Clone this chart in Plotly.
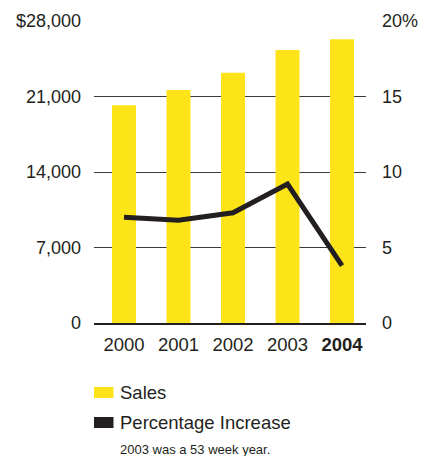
import plotly.graph_objects as go

years = [0, 1, 2, 3, 4]
year_labels = ["2000", "2001", "2002", "2003", "<b>2004</b>"]
sales = [20200, 21600, 23200, 25300, 26300]
pct_increase = [7.0, 6.8, 7.3, 9.2, 3.8]
left_ticks = [0, 7000, 14000, 21000, 28000]
left_labels = ["0", "7,000", "14,000", "21,000", "$28,000"]
right_ticks = [0, 5, 10, 15, 20]
right_labels = ["0", "5", "10", "15", "20%"]

YELLOW = "#FDE418"
DARK = "#231F20"
FONT = "Liberation Sans, Arial, Helvetica, sans-serif"

fig = go.Figure()
fig.add_trace(go.Bar(x=years, y=sales, marker=dict(color=YELLOW, line=dict(width=0)),
                     name="Sales", showlegend=False, width=0.44))
fig.add_trace(go.Scatter(x=years, y=pct_increase, yaxis="y2", mode="lines",
                         line=dict(color=DARK, width=5), name="Percentage Increase",
                         showlegend=False))

fig.update_layout(
    width=421, height=456,
    margin=dict(l=94, r=55, t=21, b=133),
    paper_bgcolor="white", plot_bgcolor="white",
    font=dict(family=FONT, size=18, color=DARK),
    xaxis=dict(range=[-0.55, 4.44], tickvals=years, ticktext=year_labels,
               showline=True, linecolor=DARK, linewidth=2, ticks="",
               showgrid=False, zeroline=False, tickfont=dict(size=18.5),
               ticklabelstandoff=4, automargin=False),
    yaxis=dict(range=[0, 28000], tickvals=left_ticks, ticktext=left_labels,
               showgrid=True, gridcolor="#3a3a3a", gridwidth=1, zeroline=False,
               ticks="", ticklabelstandoff=12, tickfont=dict(size=18),
               automargin=False),
    yaxis2=dict(range=[0, 20], tickvals=right_ticks, ticktext=right_labels,
                overlaying="y", side="right", showgrid=False, zeroline=False,
                ticks="", ticklabelstandoff=15, tickfont=dict(size=18),
                automargin=False),
)

# manual legend
def px_to_paper_y(py):
    return (323 - py) / 302.0

def px_to_paper_x(px):
    return (px - 94) / 272.0

legend_items = [("Sales", YELLOW, 387, 398), ("Percentage Increase", DARK, 417, 428)]
for label, color, y0, y1 in legend_items:
    fig.add_shape(type="rect", xref="paper", yref="paper",
                  x0=px_to_paper_x(94), x1=px_to_paper_x(113.5),
                  y0=px_to_paper_y(y1), y1=px_to_paper_y(y0),
                  fillcolor=color, line=dict(width=0))
    fig.add_annotation(text=label, xref="paper", yref="paper",
                       x=px_to_paper_x(118), y=px_to_paper_y((y0 + y1) / 2),
                       xanchor="left", yanchor="middle", showarrow=False,
                       font=dict(size=18.5, color=DARK))

fig.add_annotation(text="2003 was a 53 week year.", xref="paper", yref="paper",
                   x=px_to_paper_x(118), y=px_to_paper_y(449),
                   xanchor="left", yanchor="middle", showarrow=False,
                   font=dict(size=13, color=DARK))

fig.write_html("out.html")
